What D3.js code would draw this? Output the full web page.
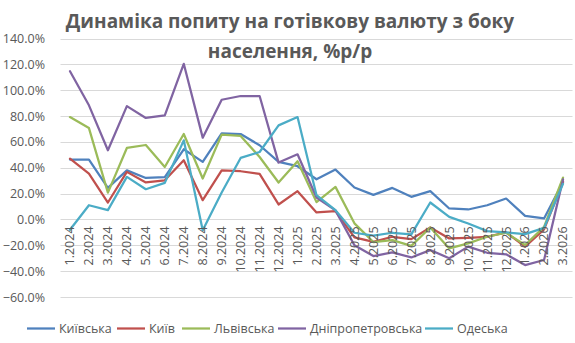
<!DOCTYPE html>
<html>
<head>
<meta charset="utf-8">
<script src="https://cdn.jsdelivr.net/npm/d3@7"></script>
<style>
  html, body { margin: 0; padding: 0; background: #fff; }
  svg { display: block; }
</style>
</head>
<body>
<svg id="chart" width="575" height="343"></svg>
<script>
const categories = ["1.2024","2.2024","3.2024","4.2024","5.2024","6.2024","7.2024","8.2024","9.2024","10.2024","11.2024","12.2024",
  "1.2025","2.2025","3.2025","4.2025","5.2025","6.2025","7.2025","8.2025","9.2025","10.2025","11.2025","12.2025",
  "1.2026","2.2026","3.2026"];

const kyivska = [46.3, 46.3, 24.4, 38, 32.1, 32.7, 54.3, 44.5, 66.6, 66.1, 57.4, 44.5, 41.2, 31.1, 38.6, 24.7, 19, 24.4, 17.5, 21.9, 8.5, 7.7, 11, 16.2, 2.8, 0.8, 29];
const kyiv = [47, 35.5, 13.1, 36.8, 28.6, 30.3, 45.8, 14.9, 38, 37.3, 35.2, 11.6, 21.9, 5.4, 6.4, -13.9, -17.3, -13.4, -15.2, -6.2, -14.7, -14.2, -13.4, -10, -21.1, -7.7, 29];
const lvivska = [79.2, 70.7, 20.8, 55.3, 57.6, 40.6, 66.1, 31.7, 65.6, 64.6, 48.3, 28.6, 45, 13.4, 25.2, -3, -17.5, -16, -20.4, -6.2, -22.4, -18.5, -13.4, -10.3, -19.8, -5.7, 32.4];
const dnipro = [114.7, 88.3, 53.5, 87.7, 78.5, 80.5, 120.4, 63.3, 92.6, 95.5, 95.5, 44, 50.4, 17, 7, -20, -28.3, -25.5, -29.4, -23.7, -30, -21, -25.8, -27, -35.3, -31.4, 31];
const odeska = [-8, 11, 7.2, 32.9, 23.4, 28.3, 61.2, -8.3, 20.8, 47.6, 52.2, 72.8, 79.2, 18.8, 7.2, -10.3, -12.6, -10.3, -11.6, 13.1, 2, -3.1, -9, -10, -11.4, -6.5, 27.5];

const seriesNames = ["Київська", "Київ", "Львівська", "Дніпропетровська", "Одеська"];
const seriesColors = ["#4F81BD", "#C0504D", "#9BBB59", "#8064A2", "#4BACC6"];
const yTicks = [-60, -40, -20, 0, 20, 40, 60, 80, 100, 120, 140];
const titleLines = ["Динаміка попиту на готівкову валюту з боку", "населення, %р/р"];

const series = [kyivska, kyiv, lvivska, dnipro, odeska].map((values, i) => ({
  name: seriesNames[i], color: seriesColors[i], values
}));

const svg = d3.select("#chart");
const plotLeft = 60.5, plotRight = 572.5, plotTop = 38.5, plotBottom = 297;

const x = d3.scaleBand().domain(categories).range([plotLeft, plotRight]);
const cx = d => x(d) + x.bandwidth() / 2;
const y = d3.scaleLinear().domain([-60, 140]).range([plotBottom, plotTop]);

const font = "'Open Sans', 'Noto Sans', sans-serif";
const textColor = "#595959";

// gridlines
svg.append("g")
  .selectAll("line")
  .data(yTicks)
  .join("line")
  .attr("x1", plotLeft).attr("x2", plotRight)
  .attr("y1", d => Math.round(y(d)) + 0.5).attr("y2", d => Math.round(y(d)) + 0.5)
  .attr("stroke", "#D9D9D9").attr("stroke-width", 1);

// y axis labels
const yAxis = d3.axisLeft(y).tickValues(yTicks).tickSize(0).tickPadding(0)
  .tickFormat(d => d3.format(".1f")(d) + "%");
const yg = svg.append("g").attr("transform", `translate(${45},0)`).call(yAxis);
yg.select(".domain").remove();
yg.selectAll("text").attr("font-family", font).attr("font-size", 12.5).attr("fill", textColor);

// lines
const line = d3.line().x((d, i) => cx(categories[i])).y(d => y(d));
svg.append("g")
  .selectAll("path")
  .data(series)
  .join("path")
  .attr("d", d => line(d.values))
  .attr("fill", "none")
  .attr("stroke", d => d.color)
  .attr("stroke-width", 2.25)
  .attr("stroke-linejoin", "round")
  .attr("stroke-linecap", "round");

// x axis labels (rotated, anchored at the 0% line)
const xAxis = d3.axisBottom(x).tickSize(0).tickPadding(0);
const xg = svg.append("g").attr("transform", `translate(0,${y(0)})`).call(xAxis);
xg.select(".domain").remove();
xg.selectAll("text")
  .attr("font-family", font).attr("font-size", 12.5).attr("fill", textColor)
  .attr("transform", "rotate(-90)")
  .attr("text-anchor", "end")
  .attr("x", -7).attr("y", 0).attr("dy", "0.35em");

// title
svg.append("g")
  .selectAll("text")
  .data(titleLines)
  .join("text")
  .attr("x", 290).attr("y", (d, i) => 28 + i * 30)
  .attr("text-anchor", "middle")
  .attr("font-family", font).attr("font-weight", "bold").attr("font-size", 19)
  .attr("fill", textColor)
  .text(d => d);

// legend
const legendX = [27, 117, 182, 278, 425];
const lg = svg.append("g");
series.forEach((s, i) => {
  const g = lg.append("g").attr("transform", `translate(${legendX[i]},${328.5})`);
  g.append("line").attr("x1", 0).attr("x2", 28).attr("y1", 0).attr("y2", 0)
    .attr("stroke", s.color).attr("stroke-width", 2.25);
  g.append("text").attr("x", 32).attr("y", 0).attr("dy", "0.35em")
    .attr("font-family", font).attr("font-size", 12.5).attr("fill", textColor)
    .text(s.name);
});
</script>
</body>
</html>
